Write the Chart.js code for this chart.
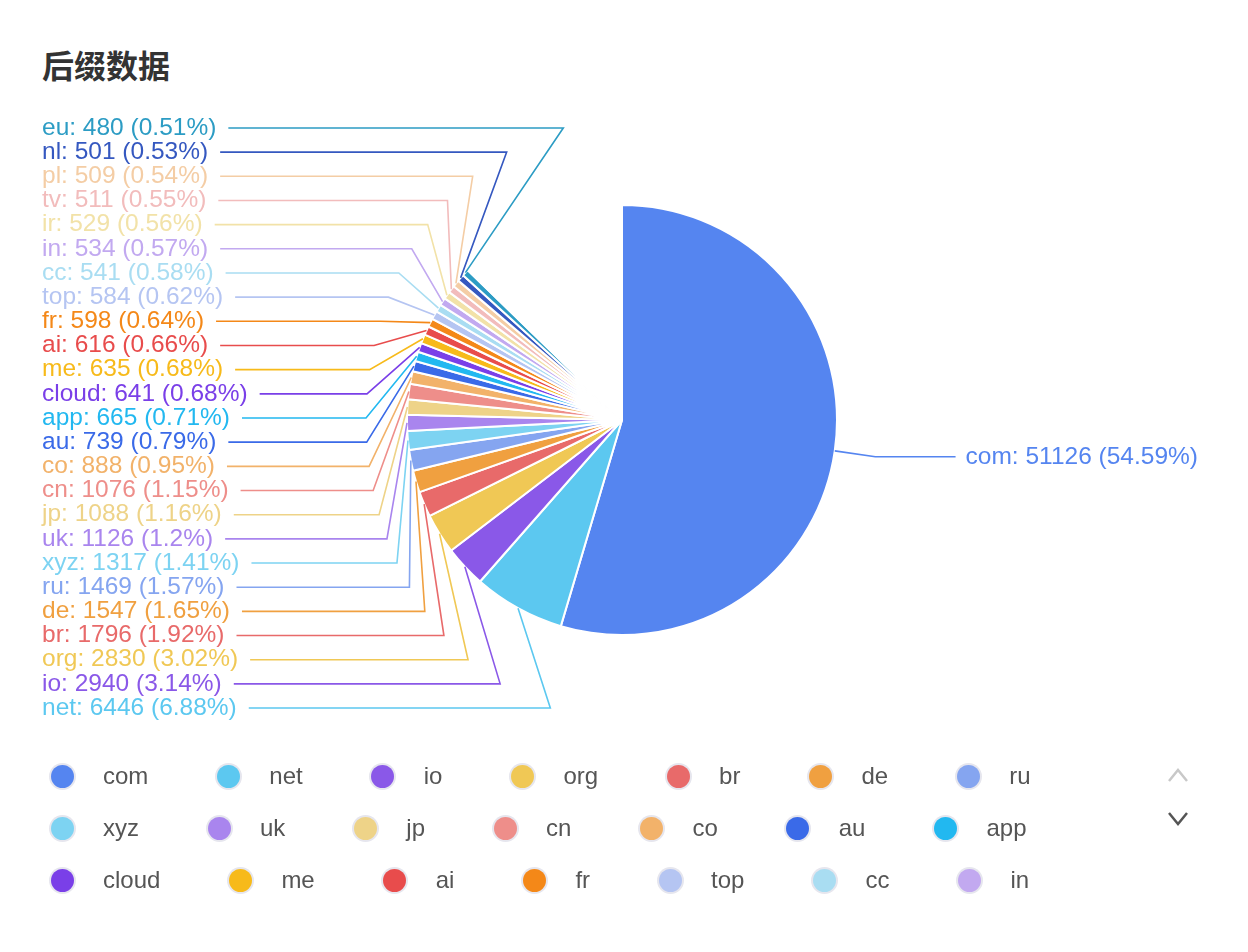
<!DOCTYPE html>
<html>
<head>
<meta charset="utf-8">
<title>后缀数据</title>
<script src="https://cdn.jsdelivr.net/npm/chart.js@4.4.1/dist/chart.umd.min.js"></script>
<style>
  html, body { margin: 0; padding: 0; background: #fff; }
  body { width: 1248px; height: 952px; position: relative; overflow: hidden; font-family: "Liberation Sans", Arial, sans-serif; }
  #title { position: absolute; left: 42px; top: 48px; font: bold 32px/32px "Noto Sans CJK SC", sans-serif; color: #333; }
  #chart { position: absolute; left: 0; top: 0; }
  #legend { position: absolute; left: 37px; top: 750px; width: 1110px; height: 156px; overflow: hidden;
            display: flex; flex-wrap: wrap; column-gap: 55px; }
  .item { display: flex; align-items: center; height: 52px; font-size: 24px; color: #555; white-space: nowrap; }
  .icon { width: 50px; display: flex; justify-content: center; margin-right: 16px; }
  .dot { width: 23px; height: 23px; border-radius: 50%; box-shadow: 0 0 0 2px #e6e6ee; }
  #pager { position: absolute; left: 1158px; top: 762px; }
</style>
</head>
<body>
<div id="title">后缀数据</div>
<canvas id="chart" width="1248" height="952"></canvas>
<div id="legend"></div>
<svg id="pager" width="40" height="70">
  <polyline points="11,19 20,8 29,19" fill="none" stroke="#c8c8c8" stroke-width="2.5"/>
  <polyline points="11,51 20,62 29,51" fill="none" stroke="#555" stroke-width="2.5"/>
</svg>
<script>
// suffix counts, largest first
const categories = ['com', 'net', 'io', 'org', 'br', 'de', 'ru', 'xyz', 'uk', 'jp', 'cn', 'co', 'au',
    'app', 'cloud', 'me', 'ai', 'fr', 'top', 'cc', 'in', 'ir', 'tv', 'pl', 'nl', 'eu'];
const values = [51126, 6446, 2940, 2830, 1796, 1547, 1469, 1317, 1126, 1088, 1076, 888, 739,
    665, 641, 635, 616, 598, 584, 541, 534, 529, 511, 509, 501, 480];
const shares = ['54.59', '6.88', '3.14', '3.02', '1.92', '1.65', '1.57', '1.41', '1.2', '1.16', '1.15', '0.95', '0.79',
    '0.71', '0.68', '0.68', '0.66', '0.64', '0.62', '0.58', '0.57', '0.56', '0.55', '0.54', '0.53', '0.51'];
// the many tiny unlabelled suffixes after "eu" (estimated total)
const restValue = 11920;

const colors = ['#5585f0', '#5cc8f0', '#8a58e8', '#f0c855', '#e86a6a', '#f0a040', '#85a5f0', '#7dd3f2',
    '#a985ee', '#eed388', '#ee8e8a', '#f2b26a', '#3a6ae8', '#22b8f0', '#7a3fe8', '#f7ba1a', '#e84c4c',
    '#f48818', '#b5c5f2', '#a9ddf2', '#c2a9f0', '#f2e2a8', '#f2bcbc', '#f4cda5', '#3558c0', '#2c9cc4'];

const labelFont = '24.5px "Liberation Sans", Arial, sans-serif';
const lineGap = 24.17;
const edgeMargin = 42;

const leaderLabels = {
    id: 'leaderLabels',
    afterDatasetsDraw(chart) {
        const ctx = chart.ctx;
        const arcs = chart.getDatasetMeta(0).data;
        const cx = arcs[0].x, cy = arcs[0].y, R = arcs[0].outerRadius;
        const rA = R + 41;
        const left = [], right = [];
        arcs.forEach((arc, i) => {
            if (i >= categories.length) return;
            const a = (arc.startAngle + arc.endAngle) / 2;
            const it = { i, a, ny: cy + rA * Math.sin(a) };
            (Math.cos(a) < 0 ? left : right).push(it);
        });

        ctx.save();
        ctx.font = labelFont;
        ctx.textBaseline = 'middle';
        ctx.lineWidth = 1.6;

        [left, right].forEach((side, s) => {
            const dir = s === 0 ? -1 : 1;
            side.sort((p, q) => p.ny - q.ny);
            let crowded = false;
            for (let k = 1; k < side.length; k++) {
                if (side[k].ny - side[k - 1].ny < lineGap) crowded = true;
            }
            if (crowded) {
                // stack the labels and put the elbows on an ellipse
                const n = side.length;
                side.forEach((it, k) => { it.y = cy - 2 + (k - (n - 1) / 2) * lineGap; });
                const maxDy = Math.max(...side.map(it => Math.abs(it.y - cy)));
                const rB = maxDy + 8;
                side.forEach(it => {
                    const dy = it.y - cy;
                    it.ex = cx + dir * rA * Math.sqrt(Math.max(0, 1 - dy * dy / (rB * rB)));
                });
            } else {
                side.forEach(it => { it.y = it.ny; it.ex = cx + rA * Math.cos(it.a); });
            }

            side.forEach(it => {
                const color = colors[it.i];
                const text = categories[it.i] + ': ' + values[it.i] + ' (' + shares[it.i] + '%)';
                const w = ctx.measureText(text).width;
                let tx, lineEnd;
                if (dir < 0) {
                    tx = edgeMargin;
                    lineEnd = tx + w + 12;
                    ctx.textAlign = 'left';
                } else {
                    tx = chart.width - edgeMargin - 8;
                    lineEnd = tx - w - 10;
                    ctx.textAlign = 'right';
                }
                ctx.strokeStyle = color;
                ctx.beginPath();
                ctx.moveTo(cx + R * Math.cos(it.a), cy + R * Math.sin(it.a));
                ctx.lineTo(it.ex, it.y);
                ctx.lineTo(lineEnd, it.y);
                ctx.stroke();
                ctx.fillStyle = color;
                ctx.fillText(text, tx, it.y);
            });
        });
        ctx.restore();
    }
};

new Chart(document.getElementById('chart'), {
    type: 'pie',
    data: {
        labels: [...categories, ''],
        datasets: [{
            data: [...values, restValue],
            backgroundColor: [...colors, '#ffffff'],
            borderColor: '#ffffff',
            borderWidth: 2,
            radius: 215
        }]
    },
    options: {
        responsive: false,
        animation: false,
        radius: 215,
        layout: { padding: { left: 100, right: 104, top: 100, bottom: 212 } },
        plugins: {
            legend: { display: false },
            tooltip: { enabled: false }
        }
    },
    plugins: [leaderLabels]
});

// paged legend: only the first rows fit, the rest is clipped
const legendBox = document.getElementById('legend');
categories.forEach((name, i) => {
    const item = document.createElement('div');
    item.className = 'item';
    item.innerHTML = '<span class="icon"><span class="dot" style="background:' + colors[i] + '"></span></span>' + name;
    legendBox.appendChild(item);
});
</script>
</body>
</html>
